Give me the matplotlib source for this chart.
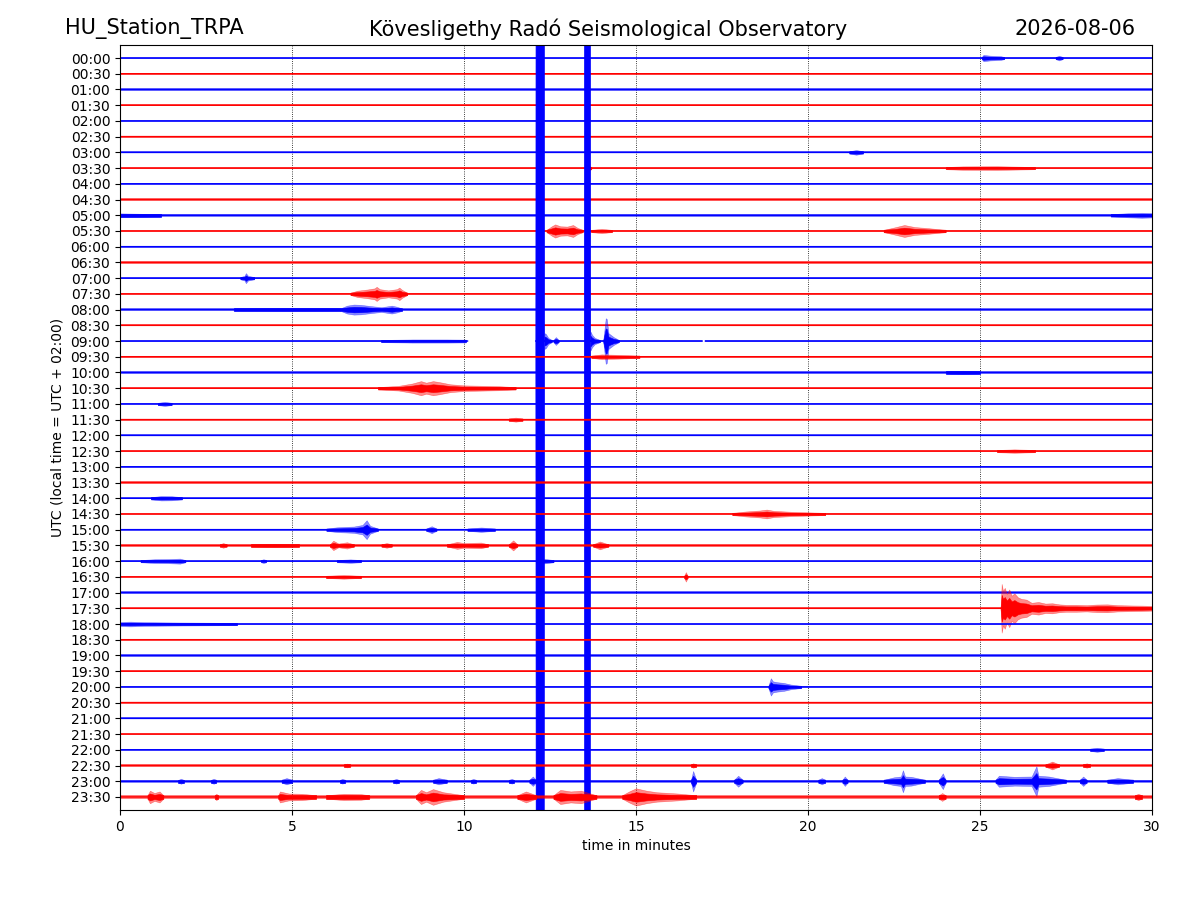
import numpy as np
import matplotlib
matplotlib.use("Agg")
import matplotlib.pyplot as plt

# Beschriftung
STATION = "HU_Station_TRPA"
OBSERVATORY = "Kövesligethy Radó Seismological Observatory"
DAY = "2026-08-06"

ROW_LABELS = [
    "00:00", "00:30", "01:00", "01:30", "02:00", "02:30", "03:00", "03:30",
    "04:00", "04:30", "05:00", "05:30", "06:00", "06:30", "07:00", "07:30",
    "08:00", "08:30", "09:00", "09:30", "10:00", "10:30", "11:00", "11:30",
    "12:00", "12:30", "13:00", "13:30", "14:00", "14:30", "15:00", "15:30",
    "16:00", "16:30", "17:00", "17:30", "18:00", "18:30", "19:00", "19:30",
    "20:00", "20:30", "21:00", "21:30", "22:00", "22:30", "23:00", "23:30",
]
X_TICKS = [0, 5, 10, 15, 20, 25, 30]

# Grundrauschen je Zeile (halbe Amplitude in Zeilenabständen)
NOISE = [
    0.07, 0.07, 0.07, 0.07, 0.07, 0.07, 0.07, 0.07,
    0.07, 0.07, 0.08, 0.08, 0.07, 0.07, 0.07, 0.08,
    0.08, 0.07, 0.07, 0.07, 0.07, 0.08, 0.07, 0.07,
    0.07, 0.07, 0.07, 0.07, 0.07, 0.07, 0.07, 0.08,
    0.07, 0.07, 0.07, 0.07, 0.07, 0.07, 0.07, 0.07,
    0.07, 0.07, 0.07, 0.07, 0.07, 0.08, 0.10, 0.12,
]

# Datenlücken (nur 09:00)
SEGMENTS = {
    18: [(0, 10.1), (12.09, 16.92), (17.02, 30)],
}

# Ereignis-Hüllkurven: (Zeiten in Minuten, halbe Amplitude)
EVENTS = {
    0: [([25.05, 25.1, 25.3, 25.6, 25.7], [0.07, 0.2, 0.15, 0.12, 0.07]),
        ([27.2, 27.3, 27.4], [0.07, 0.15, 0.07])],
    6: [([21.2, 21.4, 21.6], [0.07, 0.15, 0.07])],
    7: [([24.0, 24.5, 25.5, 26.6], [0.07, 0.11, 0.12, 0.07]),
        ([13.55, 13.6, 13.7], [0.07, 0.18, 0.07])],
    10: [([0, 0.5, 1.2], [0.12, 0.1, 0.07]),
         ([28.8, 29.3, 29.7, 30], [0.07, 0.13, 0.16, 0.14])],
    11: [([12.4, 12.55, 12.65, 12.8, 13.0, 13.17, 13.3, 13.45],
          [0.07, 0.3, 0.42, 0.3, 0.28, 0.38, 0.2, 0.07]),
         ([13.7, 14.0, 14.3], [0.07, 0.14, 0.07]),
         ([22.2, 22.5, 22.8, 23.1, 23.5, 24.0], [0.07, 0.22, 0.38, 0.25, 0.18, 0.07])],
    14: [([3.5, 3.62, 3.66, 3.72, 3.9], [0.07, 0.15, 0.32, 0.15, 0.07])],
    15: [([6.7, 6.9, 7.2, 7.4, 7.46, 7.55, 7.8, 8.05, 8.12, 8.2, 8.35],
          [0.07, 0.2, 0.28, 0.35, 0.45, 0.3, 0.22, 0.3, 0.4, 0.25, 0.07])],
    16: [([3.3, 5.0, 6.4], [0.07, 0.1, 0.08]),
         ([6.4, 6.6, 6.8, 7.0, 7.3, 7.6, 7.9, 8.05, 8.2],
          [0.07, 0.25, 0.32, 0.3, 0.22, 0.15, 0.25, 0.18, 0.07])],
    18: [([7.6, 8.5, 9.5, 10.05], [0.07, 0.1, 0.1, 0.09]),
         ([12.09, 12.1, 12.33, 12.34], [0, 60, 60, 0]),
         ([12.34, 12.38, 12.45, 12.55], [0.5, 0.45, 0.2, 0.07]),
         ([12.6, 12.67, 12.75], [0.07, 0.25, 0.07]),
         ([13.5, 13.51, 13.67, 13.68], [0, 60, 60, 0]),
         ([13.68, 13.72, 13.8, 13.95], [0.6, 0.4, 0.2, 0.07]),
         ([14.05, 14.12, 14.15, 14.2, 14.35, 14.5], [0.07, 1.45, 1.4, 0.5, 0.25, 0.07])],
    19: [([13.7, 14.0, 14.5, 15.1], [0.07, 0.15, 0.12, 0.07])],
    20: [([24.0, 24.5, 25.0], [0.07, 0.11, 0.07])],
    21: [([7.5, 8.1, 8.5, 8.75, 8.9, 9.1, 9.3, 9.6, 10.0, 11.0, 11.5],
          [0.07, 0.15, 0.3, 0.45, 0.35, 0.45, 0.38, 0.25, 0.18, 0.13, 0.07])],
    22: [([1.1, 1.3, 1.5], [0.07, 0.13, 0.07])],
    23: [([11.3, 11.5, 11.7], [0.07, 0.13, 0.07])],
    25: [([25.5, 26.0, 26.6], [0.07, 0.11, 0.07])],
    28: [([0.9, 1.2, 1.5, 1.8], [0.07, 0.14, 0.13, 0.07])],
    29: [([17.8, 18.2, 18.6, 18.8, 19.0, 19.5, 20.5], [0.07, 0.16, 0.22, 0.28, 0.2, 0.14, 0.07])],
    30: [([6.0, 6.3, 6.8, 7.05, 7.17, 7.27, 7.5], [0.07, 0.15, 0.2, 0.3, 0.6, 0.25, 0.07]),
         ([8.9, 9.06, 9.2], [0.07, 0.22, 0.07]),
         ([10.1, 10.5, 10.9], [0.07, 0.14, 0.07])],
    31: [([2.9, 3.0, 3.1], [0.07, 0.15, 0.07]),
         ([3.8, 4.5, 5.2], [0.07, 0.1, 0.07]),
         ([6.1, 6.2, 6.35, 6.6, 6.8], [0.07, 0.3, 0.12, 0.2, 0.07]),
         ([7.6, 7.75, 7.9], [0.07, 0.15, 0.07]),
         ([9.5, 9.8, 10.0, 10.5, 10.7], [0.07, 0.22, 0.15, 0.18, 0.07]),
         ([11.3, 11.43, 11.55], [0.07, 0.32, 0.07]),
         ([13.75, 13.95, 14.2], [0.07, 0.25, 0.07])],
    32: [([0.6, 1.0, 1.4, 1.74, 1.9], [0.07, 0.12, 0.13, 0.16, 0.07]),
         ([4.1, 4.17, 4.25], [0.07, 0.12, 0.07]),
         ([6.3, 6.7, 7.0], [0.07, 0.11, 0.07]),
         ([12.1, 12.35, 12.6], [0.07, 0.14, 0.07])],
    33: [([6.0, 6.5, 7.0], [0.07, 0.12, 0.07]),
         ([16.4, 16.45, 16.5], [0.07, 0.3, 0.07])],
    35: [([25.6, 25.63, 25.67, 25.72, 25.78, 25.85, 25.92, 26.0, 26.1, 26.2, 26.35, 26.5,
           26.7, 26.9, 27.1, 27.3, 27.5, 27.8, 28.1, 28.4, 28.7, 29.0, 29.4, 29.7, 30.0],
          [0.07, 1.55, 1.1, 1.3, 0.9, 1.2, 0.8, 0.95, 0.7, 0.6, 0.55, 0.35,
           0.4, 0.3, 0.32, 0.25, 0.22, 0.22, 0.2, 0.24, 0.25, 0.2, 0.18, 0.17, 0.15])],
    36: [([0, 0.3, 0.7, 1.5, 3.4], [0.13, 0.15, 0.12, 0.1, 0.07])],
    40: [([18.85, 18.92, 18.98, 19.1, 19.3, 19.5, 19.8], [0.07, 0.55, 0.35, 0.3, 0.25, 0.15, 0.07])],
    44: [([28.2, 28.4, 28.6], [0.07, 0.13, 0.07])],
    45: [([6.5, 6.6, 6.7], [0.07, 0.12, 0.07]),
         ([16.6, 16.66, 16.75], [0.07, 0.14, 0.07]),
         ([26.9, 27.1, 27.3], [0.07, 0.25, 0.07]),
         ([28.0, 28.1, 28.2], [0.07, 0.14, 0.07])],
    46: [([1.7, 1.77, 1.85], [0.09, 0.16, 0.09]),
         ([2.65, 2.72, 2.8], [0.09, 0.16, 0.09]),
         ([4.7, 4.84, 5.0], [0.09, 0.2, 0.09]),
         ([6.4, 6.46, 6.55], [0.09, 0.15, 0.09]),
         ([7.95, 8.03, 8.1], [0.09, 0.15, 0.09]),
         ([9.1, 9.26, 9.5], [0.09, 0.2, 0.09]),
         ([10.2, 10.27, 10.35], [0.09, 0.15, 0.09]),
         ([11.3, 11.39, 11.45], [0.09, 0.15, 0.09]),
         ([11.9, 12.0, 12.09], [0.09, 0.3, 0.09]),
         ([16.6, 16.66, 16.75], [0.09, 0.65, 0.09]),
         ([17.85, 17.97, 18.1], [0.09, 0.35, 0.09]),
         ([20.3, 20.4, 20.5], [0.09, 0.2, 0.09]),
         ([21.0, 21.07, 21.15], [0.09, 0.3, 0.09]),
         ([22.2, 22.5, 22.7, 22.76, 22.82, 23.0, 23.4], [0.09, 0.25, 0.3, 0.7, 0.3, 0.28, 0.09]),
         ([23.8, 23.92, 24.0], [0.09, 0.5, 0.09]),
         ([25.45, 25.55, 26.0, 26.5, 26.64, 26.7, 27.0, 27.5], [0.09, 0.35, 0.28, 0.3, 0.95, 0.35, 0.3, 0.09]),
         ([27.9, 28.0, 28.1], [0.09, 0.3, 0.09]),
         ([28.7, 29.0, 29.45], [0.09, 0.2, 0.09])],
    47: [([0.8, 0.87, 1.0, 1.15, 1.26], [0.11, 0.4, 0.25, 0.35, 0.11]),
         ([2.75, 2.8, 2.85], [0.11, 0.2, 0.11]),
         ([4.6, 4.65, 4.9, 5.3, 5.7], [0.11, 0.35, 0.22, 0.2, 0.11]),
         ([6.0, 6.5, 7.0, 7.25], [0.11, 0.2, 0.18, 0.11]),
         ([8.6, 8.75, 8.9, 9.1, 9.4, 10.0], [0.11, 0.45, 0.3, 0.5, 0.3, 0.11]),
         ([11.55, 11.8, 12.1], [0.11, 0.35, 0.11]),
         ([12.6, 12.8, 13.1, 13.4, 13.85], [0.11, 0.45, 0.35, 0.4, 0.11]),
         ([14.6, 14.8, 15.0, 15.3, 15.6, 16.2, 16.75], [0.11, 0.35, 0.55, 0.4, 0.3, 0.22, 0.11]),
         ([23.8, 23.9, 24.0], [0.11, 0.25, 0.11]),
         ([29.5, 29.6, 29.7], [0.11, 0.2, 0.11])],
}

COLORS = ["#0000ff", "#ff0000"]

fig = plt.figure(figsize=(12, 9), dpi=100)
ax = fig.add_axes([0.1, 0.1, 0.86, 0.85])

n_rows = len(ROW_LABELS)
for i in range(n_rows):
    color = COLORS[i % 2]
    z = 2 + i * 0.01
    a = NOISE[i]
    for t0, t1 in SEGMENTS.get(i, [(0, 30)]):
        ax.fill_between([t0, t1], [i - a, i - a], [i + a, i + a],
                        color=color, alpha=0.5, lw=0, zorder=z)
        ax.plot([t0, t1], [i, i], color=color, lw=1.1, zorder=z, snap=False)
    for t, amp in EVENTS.get(i, []):
        t = np.array(t)
        amp = np.array(amp)
        # äußere Hülle halbtransparent, dichter Kern voll
        ax.fill_between(t, i - amp, i + amp, facecolor=color, edgecolor=color,
                        alpha=0.45, lw=0.4, zorder=z)
        core = np.maximum(amp * 0.55, a)
        ax.fill_between(t, i - core, i + core, facecolor=color, edgecolor=color,
                        lw=0.4, zorder=z)

ax.set_xlim(0, 30)
ax.set_ylim(n_rows - 1 + 0.83, -0.83)
ax.set_yticks(range(n_rows))
ax.set_yticklabels(ROW_LABELS)
ax.set_xticks(X_TICKS)
ax.set_axisbelow(True)
ax.grid(axis="x", ls=":", color="black", lw=0.6)
ax.set_xlabel("time in minutes")
ax.set_ylabel("UTC (local time = UTC + 02:00)")

fig.text(0.054, 0.968, STATION, fontsize=15, ha="left", va="center")
fig.text(0.507, 0.968, OBSERVATORY, fontsize=15, ha="center", va="center")
fig.text(0.946, 0.968, DAY, fontsize=15, ha="right", va="center")

fig.savefig("out.png", dpi=100)
